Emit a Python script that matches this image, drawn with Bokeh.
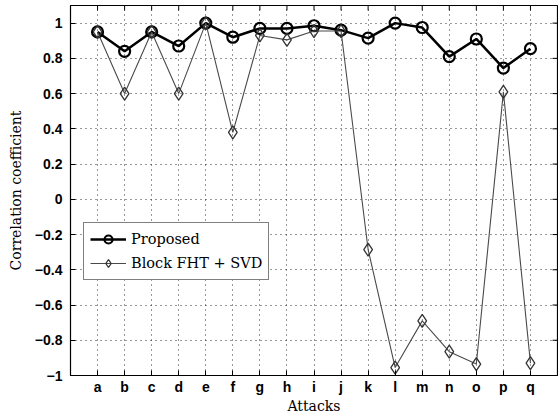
from bokeh.plotting import figure
from bokeh.models import Range1d, FixedTicker, Legend, LegendItem
from bokeh.embed import file_html
from bokeh.resources import INLINE

# Attack labels and correlation coefficients for each method
attacks = ["a", "b", "c", "d", "e", "f", "g", "h", "i", "j", "k", "l", "m", "n", "o", "p", "q"]
proposed = [0.95, 0.84, 0.95, 0.87, 1.00, 0.92, 0.97, 0.97, 0.985, 0.96, 0.915, 1.00, 0.975, 0.81, 0.91, 0.745, 0.855]
block_fht_svd = [0.95, 0.60, 0.95, 0.60, 1.00, 0.38, 0.93, 0.905, 0.955, 0.955, -0.285, -0.955, -0.69, -0.865, -0.935, 0.61, -0.93]
y_ticks = [-1, -0.8, -0.6, -0.4, -0.2, 0, 0.2, 0.4, 0.6, 0.8, 1]

x = list(range(1, len(attacks) + 1))

W, H = 558, 416
x_lo, x_hi = 0, 18
y_lo, y_hi = -1, 1.1

p = figure(width=W, height=H, output_backend="svg", toolbar_location=None,
           x_range=Range1d(x_lo, x_hi), y_range=Range1d(y_lo, y_hi),
           min_border_left=70, min_border_right=1, min_border_top=5, min_border_bottom=0)
p.background_fill_color = "white"
p.border_fill_color = "white"
p.outline_line_color = "black"
p.outline_line_width = 1.2

tick_font = "Liberation Sans"
serif = "DejaVu Serif"

def style_axis(ax):
    ax.axis_line_color = "black"
    ax.major_tick_in = 5
    ax.major_tick_out = 0
    ax.minor_tick_line_color = None
    ax.major_tick_line_color = "black"

xa = p.xaxis[0]
xa.ticker = FixedTicker(ticks=x)
xa.major_label_overrides = {i: s for i, s in zip(x, attacks)}
style_axis(xa)
xa.major_label_text_font = tick_font
xa.major_label_text_font_size = "14px"
xa.major_label_text_font_style = "bold"
xa.major_label_text_color = "black"
xa.major_label_standoff = 3
xa.axis_label = "Attacks"
xa.axis_label_text_font = serif
xa.axis_label_text_font_size = "14px"
xa.axis_label_text_font_style = "normal"
xa.axis_label_text_color = "black"
xa.axis_label_standoff = 0

ya = p.yaxis[0]
ya.ticker = FixedTicker(ticks=y_ticks)
ya.major_label_overrides = {t: (("\u2212" if t < 0 else "") + (f"{abs(t):g}")) for t in y_ticks}
style_axis(ya)
ya.major_label_text_font = tick_font
ya.major_label_text_font_size = "14px"
ya.major_label_text_font_style = "bold"
ya.major_label_text_color = "black"
ya.major_label_standoff = 8
ya.axis_label = "Correlation coefficient"
ya.axis_label_text_font = serif
ya.axis_label_text_font_size = "14px"
ya.axis_label_text_font_style = "normal"
ya.axis_label_text_color = "black"
ya.axis_label_standoff = 8

p.xgrid.ticker = FixedTicker(ticks=x)
p.ygrid.ticker = FixedTicker(ticks=y_ticks)
for g in (p.xgrid[0], p.ygrid[0]):
    g.grid_line_color = "black"
    g.grid_line_alpha = 0.8
    g.grid_line_dash = "1 4"
    g.grid_line_width = 1

# Inward box ticks on the top and right edges (about 5 px long)
tick_px = 5
dy = (y_hi - y_lo) / 373 * tick_px
dx = (x_hi - x_lo) / 487 * tick_px
p.segment(x0=x, y0=[y_hi] * len(x), x1=x, y1=[y_hi - dy] * len(x),
          line_color="black", line_width=1)
p.segment(x0=[x_hi] * len(y_ticks), y0=y_ticks, x1=[x_hi - dx] * len(y_ticks), y1=y_ticks,
          line_color="black", line_width=1)

r_prop_line = p.line(x, proposed, line_color="black", line_width=2.5)
r_prop_mark = p.scatter(x, proposed, marker="circle", size=11, fill_color=None,
                        line_color="black", line_width=2.2)
r_blk_line = p.line(x, block_fht_svd, line_color="#4a4a4a", line_width=1.1)
r_blk_mark = p.scatter(x, block_fht_svd, marker="diamond", size=13, fill_color=None,
                       line_color="#333333", line_width=1.3)

legend = Legend(items=[
    LegendItem(label="Proposed", renderers=[r_prop_line, r_prop_mark]),
    LegendItem(label="Block FHT + SVD", renderers=[r_blk_line, r_blk_mark]),
], location=(13, 95))
legend.label_text_font = serif
legend.label_text_font_size = "14.5px"
legend.label_text_color = "black"
legend.border_line_color = "black"
legend.border_line_width = 1
legend.background_fill_alpha = 1
legend.glyph_width = 36
legend.spacing = 4
legend.padding = 6
legend.margin = 0
p.add_layout(legend, "center")

open("out.html", "w").write(file_html(p, INLINE))
